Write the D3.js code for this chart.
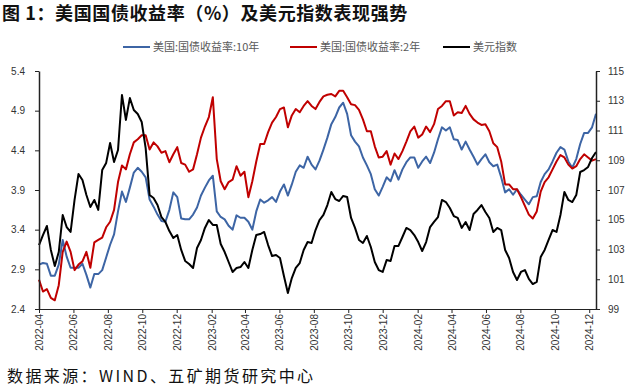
<!DOCTYPE html>
<html>
<head>
<meta charset="utf-8">
<script src="https://cdn.jsdelivr.net/npm/d3@7"></script>
<style>
  body { margin: 0; background: #fff; }
  svg text { font-family: "Noto Sans CJK SC", "Noto Sans", sans-serif; }
  .tick text { font-family: "Liberation Sans", Arial, sans-serif; }
</style>
</head>
<body>
<div id="chart"></div>
<script>
const title = "图 1：美国国债收益率（%）及美元指数表现强势";
const source = "数据来源：WIND、五矿期货研究中心";
const seriesNames = ["美国:国债收益率:10年", "美国:国债收益率:2年", "美元指数"];
const seriesColors = ["#3d65a5", "#c00000", "#000000"];

// one observation per week, starting on this Friday
const firstWeek = "2022-04-01";
const lastDay = "2024-12-13";
const tickMonths = ["2022-04", "2022-06", "2022-08", "2022-10", "2022-12", "2023-02", "2023-04",
  "2023-06", "2023-08", "2023-10", "2023-12", "2024-02", "2024-04", "2024-06", "2024-08",
  "2024-10", "2024-12"];
const leftTicks = [2.4, 2.9, 3.4, 3.9, 4.4, 4.9, 5.4];
const rightTicks = [99, 101, 103, 105, 107, 109, 111, 113, 115];

const yield10y = [
  2.96, 2.98, 2.97, 2.82, 2.82, 2.96, 3.27, 3.06, 2.92, 2.92, 2.92, 2.97, 2.83, 2.67, 2.84, 2.84,
  2.89, 3.05, 3.21, 3.34, 3.63, 3.88, 3.75, 3.93, 4.12, 4.18, 4.13, 4.06, 3.78, 3.69, 3.59, 3.51,
  3.50, 3.65, 3.87, 3.81, 3.54, 3.53, 3.53, 3.59, 3.68, 3.83, 3.93, 4.02, 4.08, 3.63, 3.56, 3.53,
  3.45, 3.40, 3.58, 3.55, 3.55, 3.50, 3.40, 3.63, 3.78, 3.74, 3.77, 3.81, 3.75, 3.88, 3.97, 3.83,
  3.97, 4.13, 4.21, 4.18, 4.32, 4.22, 4.16, 4.27, 4.41, 4.56, 4.73, 4.82, 4.94, 5.00, 4.86, 4.59,
  4.51, 4.45, 4.31, 4.21, 4.10, 3.91, 3.83, 3.94, 4.06, 4.01, 4.15, 4.03, 4.16, 4.25, 4.31, 4.31,
  4.18, 4.26, 4.32, 4.24, 4.37, 4.54, 4.69, 4.65, 4.69, 4.54, 4.53, 4.41, 4.51, 4.41, 4.32, 4.22,
  4.29, 4.35, 4.25, 4.20, 4.22, 4.06, 3.87, 3.91, 3.84, 3.91, 3.84, 3.78, 3.72, 3.81, 3.82, 4.00,
  4.10, 4.16, 4.26, 4.37, 4.44, 4.41, 4.26, 4.18, 4.29, 4.48, 4.62, 4.62, 4.69, 4.86
];
const yield2y = [
  2.77, 2.62, 2.65, 2.54, 2.51, 2.70, 3.12, 3.25, 3.12, 2.89, 2.96, 3.00, 3.12, 2.92, 3.24, 3.27,
  3.30, 3.43, 3.50, 3.65, 4.00, 4.21, 4.16, 4.35, 4.50, 4.54, 4.59, 4.59, 4.41, 4.50, 4.45, 4.37,
  4.39, 4.25, 4.35, 4.44, 4.24, 4.22, 4.13, 4.16, 4.35, 4.56, 4.70, 4.82, 5.07, 4.29, 4.01, 3.91,
  4.00, 4.03, 4.20, 4.08, 4.13, 3.81, 4.01, 4.26, 4.48, 4.48, 4.63, 4.75, 4.82, 4.92, 4.94, 4.69,
  4.84, 4.92, 4.88, 4.96, 5.02, 4.96, 4.92, 5.01, 5.08, 5.10, 5.11, 5.08, 5.15, 5.15, 5.07, 4.98,
  4.97, 4.91, 4.79, 4.64, 4.64, 4.45, 4.31, 4.32, 4.39, 4.22, 4.36, 4.29, 4.39, 4.51, 4.64, 4.70,
  4.56, 4.60, 4.70, 4.63, 4.73, 4.92, 4.96, 5.02, 5.02, 4.84, 4.88, 4.87, 4.96, 4.86, 4.79, 4.75,
  4.72, 4.73, 4.64, 4.49, 4.44, 4.26, 3.97, 3.97, 3.91, 3.91, 3.81, 3.70, 3.59, 3.54, 3.63, 3.88,
  4.00, 4.06, 4.16, 4.26, 4.34, 4.31, 4.22, 4.17, 4.20, 4.29, 4.35, 4.31, 4.27, 4.29
];
const dollarIndex = [
  103.30, 103.97, 104.58, 102.97, 101.89, 102.83, 105.32, 104.51, 104.18, 106.33, 108.08, 107.67,
  106.66, 105.86, 106.33, 105.66, 108.34, 108.82, 110.16, 108.88, 109.69, 113.39, 111.71, 113.18,
  112.38, 112.11, 111.57, 109.82, 106.66, 106.46, 105.99, 105.18, 104.85, 104.24, 103.77, 103.97,
  102.97, 102.23, 102.03, 101.76, 103.10, 103.64, 104.45, 104.98, 104.65, 104.65, 103.37, 102.83,
  102.16, 101.49, 101.76, 101.82, 102.16, 101.76, 102.97, 103.97, 104.04, 104.18, 103.30, 102.56,
  102.63, 102.43, 101.22, 100.08, 101.08, 101.76, 102.09, 102.97, 103.50, 103.44, 104.31, 104.98,
  105.32, 105.99, 106.87, 106.39, 106.26, 106.60, 106.53, 105.12, 104.45, 103.64, 103.44, 103.91,
  103.17, 102.16, 101.62, 101.49, 102.29, 102.23, 103.24, 103.24, 103.84, 104.45, 104.31, 103.97,
  103.50, 102.90, 103.50, 104.51, 104.85, 105.18, 106.33, 106.19, 105.79, 105.25, 105.12, 104.45,
  104.85, 104.31, 105.39, 105.66, 105.99, 105.52, 105.12, 104.18, 104.45, 104.31, 102.97, 102.43,
  101.49, 100.95, 101.49, 101.62, 101.02, 100.68, 100.82, 102.50, 102.97, 103.64, 104.31, 104.18,
  105.32, 106.87, 106.33, 106.19, 106.66, 108.21, 108.34, 108.55, 109.15, 109.55
];

const width = 637, height = 390;
const plot = { left: 39, right: 596, top: 71, bottom: 309 };

const parseDay = d3.utcParse("%Y-%m-%d");
const parseMonth = d3.utcParse("%Y-%m");
const start = parseDay(firstWeek);
const dates = yield10y.map((_, i) => d3.utcDay.offset(start, 7 * i));

const svg = d3.select("#chart").append("svg")
  .attr("width", width).attr("height", height);

const x = d3.scaleUtc()
  .domain([start, parseDay(lastDay)])
  .range([plot.left, plot.right]);
const yLeft = d3.scaleLinear().domain([2.4, 5.4]).range([plot.bottom, plot.top]);
const yRight = d3.scaleLinear().domain([99, 115]).range([plot.bottom, plot.top]);

// title & source
svg.append("text")
  .attr("x", 2).attr("y", 20)
  .attr("font-size", 18).attr("font-weight", "bold")
  .attr("letter-spacing", 0.6)
  .attr("fill", "#111")
  .text(title);

svg.append("text")
  .attr("x", 7).attr("y", 382)
  .attr("font-size", 16)
  .attr("letter-spacing", 2.4)
  .attr("fill", "#111")
  .text(source);

// legend
const legendX = [123, 290, 443];
const legend = svg.append("g");
seriesNames.forEach((name, i) => {
  legend.append("line")
    .attr("x1", legendX[i]).attr("x2", legendX[i] + 27)
    .attr("y1", 47).attr("y2", 47)
    .attr("stroke", seriesColors[i]).attr("stroke-width", 2);
  legend.append("text")
    .attr("x", legendX[i] + 30).attr("y", 47).attr("dy", "0.35em")
    .attr("font-size", 11).attr("fill", "#595959")
    .text(name);
});

// lines
const lines = svg.append("g").attr("fill", "none")
  .attr("stroke-width", 2).attr("stroke-linejoin", "round");

[[yield10y, yLeft], [yield2y, yLeft], [dollarIndex, yRight]].forEach(([vals, y], i) => {
  lines.append("path")
    .datum(vals)
    .attr("stroke", seriesColors[i])
    .attr("d", d3.line().x((d, j) => x(dates[j])).y(d => y(d)));
});

// axes
const axisColor = "#222";
const leftAxis = svg.append("g")
  .attr("transform", `translate(${plot.left},0)`)
  .call(d3.axisLeft(yLeft).tickValues(leftTicks).tickFormat(d3.format(".1f"))
    .tickSize(4).tickPadding(10).tickSizeOuter(0));

const rightAxis = svg.append("g")
  .attr("transform", `translate(${plot.right},0)`)
  .call(d3.axisRight(yRight).tickValues(rightTicks).tickSize(4).tickPadding(8).tickSizeOuter(0));

const bottomAxis = svg.append("g")
  .attr("transform", `translate(0,${plot.bottom})`)
  .call(d3.axisBottom(x).tickValues(tickMonths.map(parseMonth))
    .tickFormat(d3.utcFormat("%Y-%m")).tickSize(4).tickSizeOuter(0));

bottomAxis.selectAll(".tick text")
  .attr("transform", "rotate(-90)")
  .attr("x", -5).attr("y", 0).attr("dy", "0.35em")
  .style("text-anchor", "end");

[leftAxis, rightAxis, bottomAxis].forEach(g => {
  g.select(".domain").attr("stroke", axisColor).attr("stroke-width", 1.5);
  g.selectAll(".tick line").attr("stroke", axisColor);
  g.selectAll(".tick text").attr("font-size", 10).attr("fill", "#333");
});
bottomAxis.select(".domain").attr("stroke-width", 1.2);
</script>
</body>
</html>
